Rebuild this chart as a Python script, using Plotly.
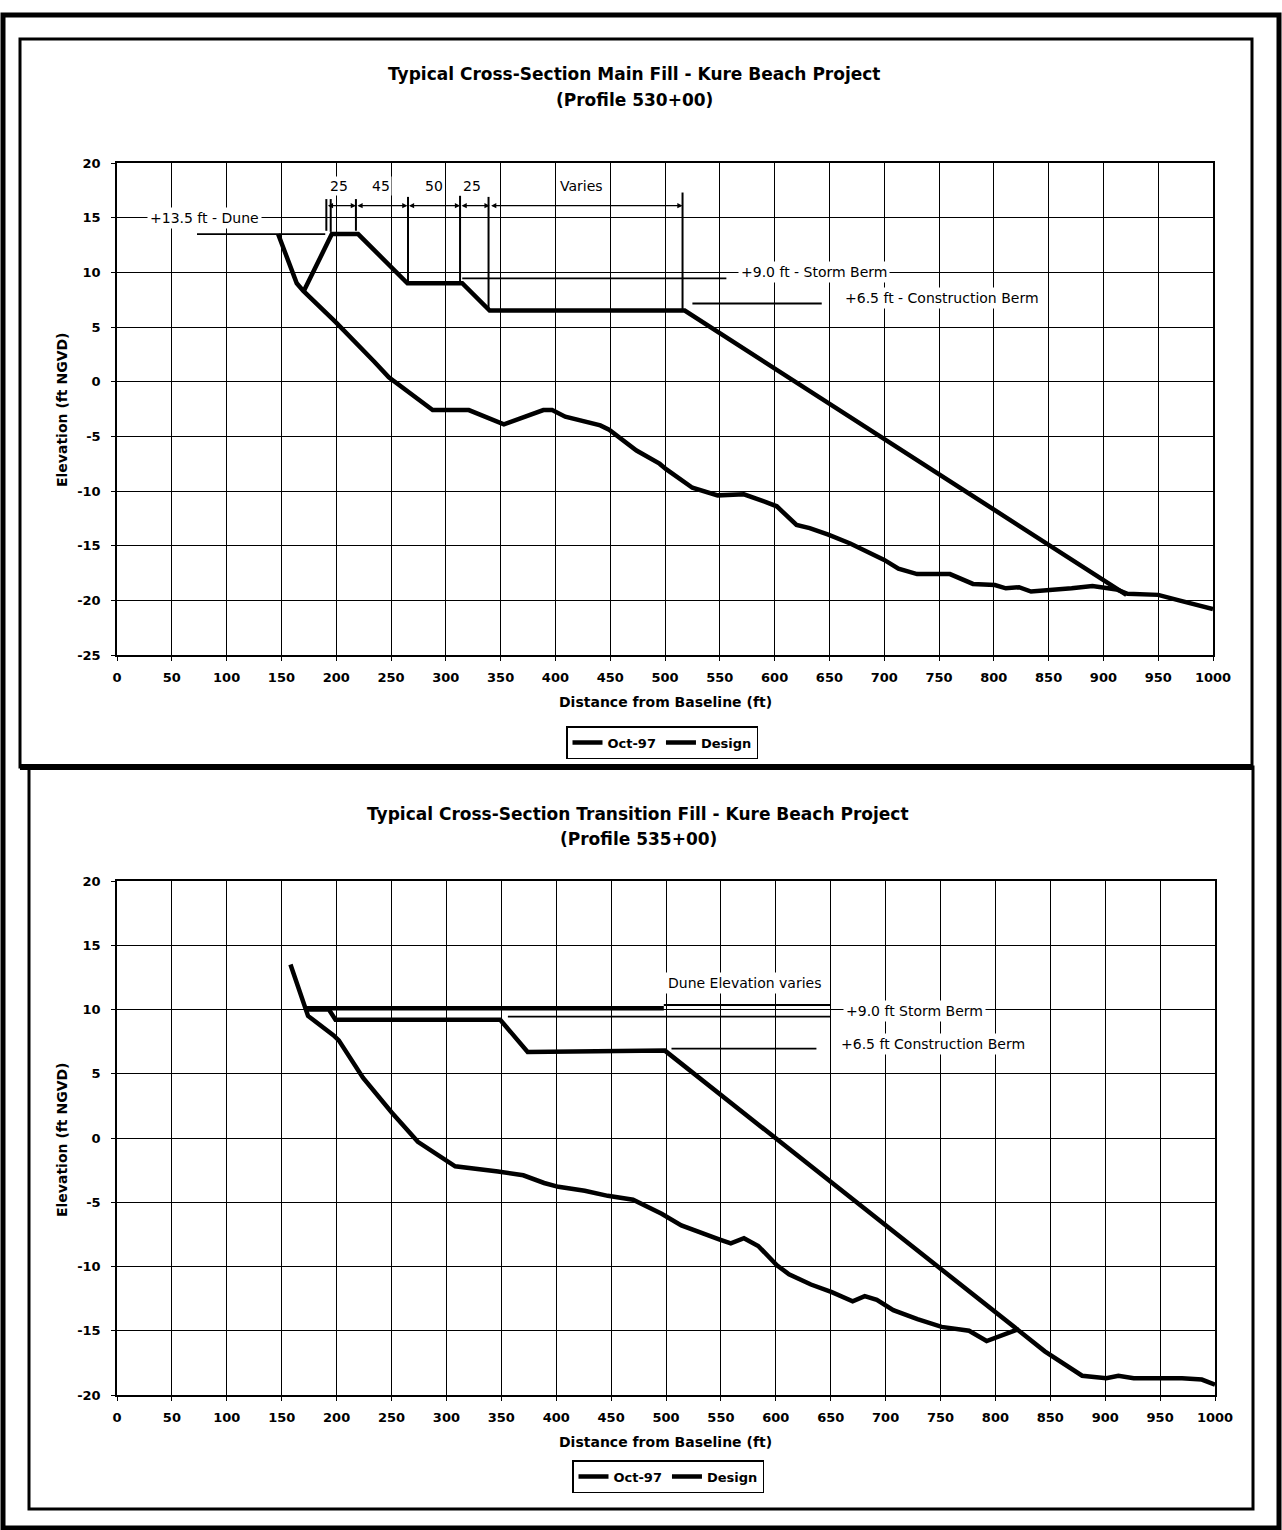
import plotly.graph_objects as go

W, H = 1282, 1530

# ---------------- DATA ----------------
# Top chart: Main Fill, Profile 530+00
top_oct_x = [147, 164, 170, 200, 235, 248, 288, 321, 353, 389, 397, 409, 441, 449, 474, 495,
             501, 525, 548, 572, 589, 602, 620, 632, 649, 669, 700, 713, 730, 760, 781, 801,
             811, 823, 834, 851, 871, 890, 902, 912, 922, 950, 969, 1000]
top_oct_y = [13.5, 9.0, 8.3, 5.4, 1.8, 0.4, -2.6, -2.6, -3.9, -2.6, -2.6, -3.2, -4.0, -4.4, -6.3, -7.5,
             -8.0, -9.7, -10.4, -10.3, -10.9, -11.4, -13.1, -13.4, -14.0, -14.8, -16.3, -17.1, -17.6, -17.6, -18.5, -18.6,
             -18.9, -18.8, -19.2, -19.1, -18.9, -18.7, -18.9, -19.0, -19.4, -19.5, -20.0, -20.8]
top_des_x = [170, 196, 220, 265, 315, 340, 518, 921]
top_des_y = [8.2, 13.5, 13.5, 9.0, 9.0, 6.5, 6.5, -19.5]

# Bottom chart: Transition Fill, Profile 535+00
bot_oct_x = [158, 173, 174, 197, 202, 224, 250, 274, 308, 347, 370, 389, 402, 426, 447, 470,
             496, 514, 532, 549, 559, 571, 584, 601, 612, 632, 651, 670, 681, 692, 707, 729,
             751, 776, 792, 820, 845, 860, 879, 901, 912, 926, 970, 988, 1000]
bot_oct_y = [13.5, 9.9, 9.5, 8.0, 7.6, 4.7, 2.0, -0.3, -2.2, -2.6, -2.9, -3.5, -3.8, -4.1, -4.5, -4.8,
             -5.9, -6.8, -7.4, -7.9, -8.2, -7.8, -8.4, -9.9, -10.6, -11.4, -12.0, -12.7, -12.3, -12.6, -13.4, -14.1,
             -14.7, -15.0, -15.8, -14.9, -16.6, -17.4, -18.5, -18.7, -18.5, -18.7, -18.7, -18.8, -19.2]
bot_des_x = [173, 193, 199, 349, 374, 499, 820]
bot_des_y = [10.0, 10.0, 9.2, 9.2, 6.7, 6.8, -14.9]
bot_dune_x = [173, 498]
bot_dune_y = [10.1, 10.1]

x_ticks = list(range(0, 1001, 50))
x_tick_text = [str(v) for v in x_ticks]
top_y_ticks = list(range(-25, 21, 5))
top_y_text = [str(v) for v in top_y_ticks]
bot_y_ticks = list(range(-20, 21, 5))
bot_y_text = [str(v) for v in bot_y_ticks]

# dimension segments (top chart)
dim_bounds = [191, 218, 265, 313, 340, 516]
dim_labels = ["25", "45", "50", "25", "Varies"]
dim_label_x = [203, 241, 289, 324, 424]
dim_ticks = [(191, 16.7, 13.8), (195, 16.7, 13.7), (218, 16.7, 13.8), (265.5, 16.9, 9.1),
             (313, 17.0, 9.1), (339, 16.9, 6.7), (516, 17.3, 6.5)]

# ---------------- FIGURE ----------------
FONT = "DejaVu Sans"
fig = go.Figure()
LW = 4.5

fig.add_trace(go.Scatter(x=top_oct_x, y=top_oct_y, mode="lines", name="Oct-97",
                         line=dict(color="black", width=LW), xaxis="x", yaxis="y", legend="legend"))
fig.add_trace(go.Scatter(x=top_des_x, y=top_des_y, mode="lines", name="Design",
                         line=dict(color="black", width=LW), xaxis="x", yaxis="y", legend="legend"))
fig.add_trace(go.Scatter(x=bot_oct_x, y=bot_oct_y, mode="lines", name="Oct-97",
                         line=dict(color="black", width=LW), xaxis="x2", yaxis="y2", legend="legend2"))
fig.add_trace(go.Scatter(x=bot_des_x, y=bot_des_y, mode="lines", name="Design",
                         line=dict(color="black", width=LW), xaxis="x2", yaxis="y2", legend="legend2"))
fig.add_trace(go.Scatter(x=bot_dune_x, y=bot_dune_y, mode="lines", showlegend=False,
                         line=dict(color="black", width=LW), xaxis="x2", yaxis="y2"))


def px(v):
    return v / W


def py(v):
    return 1 - v / H


TICKF = dict(family=FONT, size=13, color="black", weight="bold")
axis_common = dict(range=[0, 1000], tickvals=x_ticks, ticktext=x_tick_text, showgrid=True, gridcolor="black",
                   gridwidth=1.3, zeroline=False, showline=True, linecolor="black", linewidth=1.5, mirror=True,
                   ticks="outside", ticklen=4, tickcolor="black", ticklabelstandoff=6, tickfont=TICKF,
                   automargin=False)
yaxis_common = dict(showgrid=True, gridcolor="black", gridwidth=1.3, zeroline=False, showline=True,
                    linecolor="black", linewidth=1.5, mirror=True, ticks="outside", ticklen=4,
                    tickcolor="black", ticklabelstandoff=8, tickfont=TICKF, automargin=False)

LEGF = dict(family=FONT, size=13, color="black", weight="bold")
fig.update_layout(
    width=W, height=H, margin=dict(l=0, r=0, t=0, b=0, pad=0, autoexpand=False),
    paper_bgcolor="white", plot_bgcolor="white",
    xaxis=dict(domain=[px(117), px(1213)], anchor="y", **axis_common),
    yaxis=dict(domain=[py(655), py(163)], anchor="x", range=[-25, 20], tickvals=top_y_ticks,
               ticktext=top_y_text, **yaxis_common),
    xaxis2=dict(domain=[px(117), px(1215)], anchor="y2", **axis_common),
    yaxis2=dict(domain=[py(1395), py(881)], anchor="x2", range=[-20, 20], tickvals=bot_y_ticks,
                ticktext=bot_y_text, **yaxis_common),
    legend=dict(orientation="h", x=px(662), y=py(742.5), xanchor="center", yanchor="middle",
                bordercolor="black", borderwidth=1.5, bgcolor="white", itemwidth=30,
                font=LEGF, tracegroupgap=0),
    legend2=dict(orientation="h", x=px(668), y=py(1476.5), xanchor="center", yanchor="middle",
                 bordercolor="black", borderwidth=1.5, bgcolor="white", itemwidth=30,
                 font=LEGF, tracegroupgap=0),
    showlegend=True,
)

shapes = []
# frames
shapes.append(dict(type="rect", xref="paper", yref="paper", x0=px(3), x1=px(1279), y0=py(1528), y1=py(15),
                   line=dict(color="black", width=5)))
shapes.append(dict(type="rect", xref="paper", yref="paper", x0=px(20), x1=px(1252), y0=py(767), y1=py(39),
                   line=dict(color="black", width=3)))
shapes.append(dict(type="line", xref="paper", yref="paper", x0=px(20), x1=px(1253), y0=py(767), y1=py(767),
                   line=dict(color="black", width=6)))
shapes.append(dict(type="rect", xref="paper", yref="paper", x0=px(29), x1=px(1253), y0=py(1509), y1=py(767),
                   line=dict(color="black", width=3)))

# thin reference lines (top)
top_ref_lines = [((73, 190), 13.5), ((315, 556), 9.45), ((525, 643), 7.15)]
for (xa, xb), yv in top_ref_lines:
    shapes.append(dict(type="line", xref="x", yref="y", x0=xa, x1=xb, y0=yv, y1=yv,
                       line=dict(color="black", width=1.8)))
# dimension ticks
for xv, ya, yb in dim_ticks:
    shapes.append(dict(type="line", xref="x", yref="y", x0=xv, x1=xv, y0=ya, y1=yb,
                       line=dict(color="black", width=2)))
# thin reference lines (bottom)
bot_ref_lines = [((498, 650), 10.35), ((356, 650), 9.45), ((505, 637), 6.95)]
for (xa, xb), yv in bot_ref_lines:
    shapes.append(dict(type="line", xref="x2", yref="y2", x0=xa, x1=xb, y0=yv, y1=yv,
                       line=dict(color="black", width=1.8)))

fig.update_layout(shapes=shapes)

ann = []
TF = dict(family=FONT, size=17, color="black", weight="bold")
ann += [
    dict(text="Typical Cross-Section Main Fill - Kure Beach Project", x=px(634), y=py(74)),
    dict(text="(Profile 530+00)", x=px(634), y=py(100)),
    dict(text="Typical Cross-Section Transition Fill - Kure Beach Project", x=px(638), y=py(814)),
    dict(text="(Profile 535+00)", x=px(638), y=py(839)),
]
for a in ann:
    a.update(xref="paper", yref="paper", showarrow=False, font=TF, xanchor="center", yanchor="middle")

AF = dict(family=FONT, size=14, color="black", weight="bold")
for yc in (702, 1442):
    ann.append(dict(text="Distance from Baseline (ft)", x=px(665), y=py(yc), xref="paper", yref="paper",
                    showarrow=False, font=AF, xanchor="center", yanchor="middle"))
for yc in (410, 1140):
    ann.append(dict(text="Elevation (ft NGVD)", x=px(62), y=py(yc), xref="paper", yref="paper",
                    showarrow=False, font=AF, textangle=-90, xanchor="center", yanchor="middle"))

LF = dict(family=FONT, size=14, color="black")
# top chart labels
ann.append(dict(text="+13.5 ft - Dune", x=80, y=15, xref="x", yref="y", showarrow=False, font=LF,
                bgcolor="white", borderpad=2))
ann.append(dict(text="+9.0 ft - Storm Berm", x=636, y=10.05, xref="x", yref="y", showarrow=False, font=LF,
                bgcolor="white", borderpad=2))
ann.append(dict(text="+6.5 ft - Construction Berm", x=753, y=7.65, xref="x", yref="y", showarrow=False,
                font=LF, bgcolor="white", borderpad=2))
for lbl, lx in zip(dim_labels, dim_label_x):
    ann.append(dict(text=lbl, x=lx, y=17.9, xref="x", yref="y", showarrow=False, font=LF,
                    bgcolor="white", borderpad=1))
for xa, xb in zip(dim_bounds[:-1], dim_bounds[1:]):
    ann.append(dict(text="", x=xb, y=16.1, ax=xa, ay=16.1, xref="x", yref="y", axref="x", ayref="y",
                    showarrow=True, arrowhead=2, arrowside="end+start", arrowsize=0.8, arrowwidth=1.3,
                    arrowcolor="black", standoff=0, startstandoff=0))
# bottom chart labels
ann.append(dict(text="Dune Elevation varies", x=572, y=12.05, xref="x2", yref="y2", showarrow=False, font=LF,
                bgcolor="white", borderpad=2))
ann.append(dict(text="+9.0 ft Storm Berm", x=726, y=9.9, xref="x2", yref="y2", showarrow=False, font=LF,
                bgcolor="white", borderpad=2))
ann.append(dict(text="+6.5 ft Construction Berm", x=743, y=7.3, xref="x2", yref="y2", showarrow=False,
                font=LF, bgcolor="white", borderpad=2))

fig.update_layout(annotations=ann)

fig.write_html("out.html", config={"displayModeBar": False},
               post_script="document.body.style.margin='0';document.body.style.overflow='hidden';")
